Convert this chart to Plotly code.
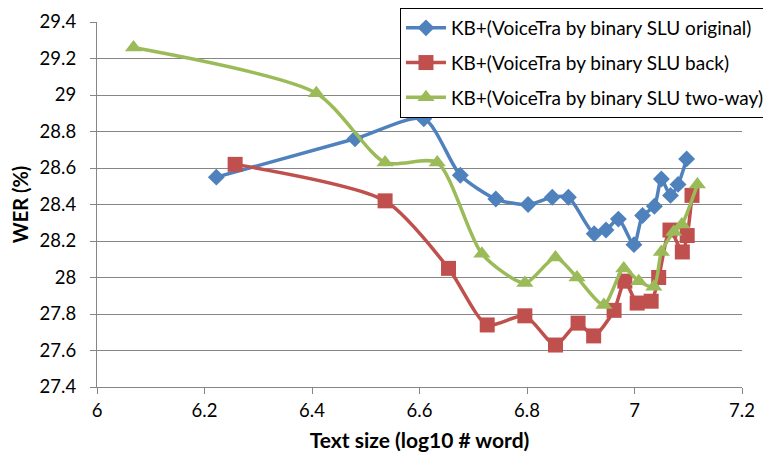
import plotly.graph_objects as go

# --- data ---
orig_x = [6.222, 6.480, 6.608, 6.676, 6.742, 6.802, 6.847, 6.877, 6.925, 6.947, 6.970, 6.999, 7.015, 7.037, 7.050, 7.067, 7.081, 7.097]
orig_y = [28.55, 28.76, 28.87, 28.56, 28.43, 28.40, 28.44, 28.44, 28.24, 28.26, 28.32, 28.18, 28.34, 28.39, 28.54, 28.45, 28.51, 28.65]

back_x = [6.257, 6.536, 6.654, 6.726, 6.796, 6.853, 6.895, 6.924, 6.962, 6.982, 7.005, 7.031, 7.045, 7.066, 7.089, 7.098, 7.107]
back_y = [28.62, 28.42, 28.05, 27.74, 27.79, 27.63, 27.75, 27.68, 27.82, 27.98, 27.86, 27.87, 28.00, 28.26, 28.14, 28.23, 28.45]

two_x = [6.068, 6.408, 6.536, 6.633, 6.716, 6.796, 6.853, 6.893, 6.943, 6.980, 7.008, 7.036, 7.050, 7.073, 7.088, 7.117]
two_y = [29.26, 29.01, 28.63, 28.63, 28.13, 27.97, 28.11, 28.00, 27.85, 28.05, 27.98, 27.95, 28.14, 28.25, 28.29, 28.51]

names = ["KB+(VoiceTra by binary SLU original)",
         "KB+(VoiceTra by binary SLU back)",
         "KB+(VoiceTra by binary SLU two-way)"]
colors = ["#4F81BD", "#C0504D", "#9BBB59"]
symbols = ["diamond", "square", "triangle-up"]
msizes = [13, 15, 15]

FONT = "Lato, Carlito, Calibri, sans-serif"

fig = go.Figure()
for i, (xs, ys) in enumerate([(orig_x, orig_y), (back_x, back_y), (two_x, two_y)]):
    fig.add_trace(go.Scatter(
        x=xs, y=ys, name=names[i], mode="lines+markers",
        legendgroup=str(i),
        line=dict(color=colors[i], width=3.5, shape="spline", smoothing=0.7),
        marker=dict(color=colors[i], symbol=symbols[i], size=msizes[i]),
    ))

fig.update_layout(
    width=771, height=458,
    margin=dict(l=89, r=36.5, t=14, b=78.5, autoexpand=False),
    paper_bgcolor="white", plot_bgcolor="white",
    font=dict(family=FONT, size=18.5, color="black"),
    legend=dict(
        xref="container", yref="container",
        x=0.5084, y=1.0087, xanchor="left", yanchor="top",
        bordercolor="black", borderwidth=1, bgcolor="white",
        font=dict(size=19), itemwidth=40, tracegroupgap=7,
    ),
)
fig.update_xaxes(
    range=[6, 7.2], dtick=0.2, tick0=6, automargin=False,
    showgrid=False, zeroline=False,
    showline=True, linecolor="#868686", linewidth=1.3,
    ticks="outside", ticklen=6, tickcolor="#868686", ticklabelstandoff=1,
    title=dict(text="<b>Text size (log10 # word)</b>", font=dict(size=21), standoff=12),
)
fig.update_yaxes(
    range=[27.4, 29.4], dtick=0.2, tick0=27.4, automargin=False,
    showgrid=True, gridcolor="#868686", gridwidth=1.3, zeroline=False,
    showline=True, linecolor="#868686", linewidth=1.3,
    ticks="outside", ticklen=6, tickcolor="#868686", ticklabelstandoff=10,
    title=dict(text="<b>WER (%)</b>", font=dict(size=20), standoff=12),
)

fig.write_html("out.html")
